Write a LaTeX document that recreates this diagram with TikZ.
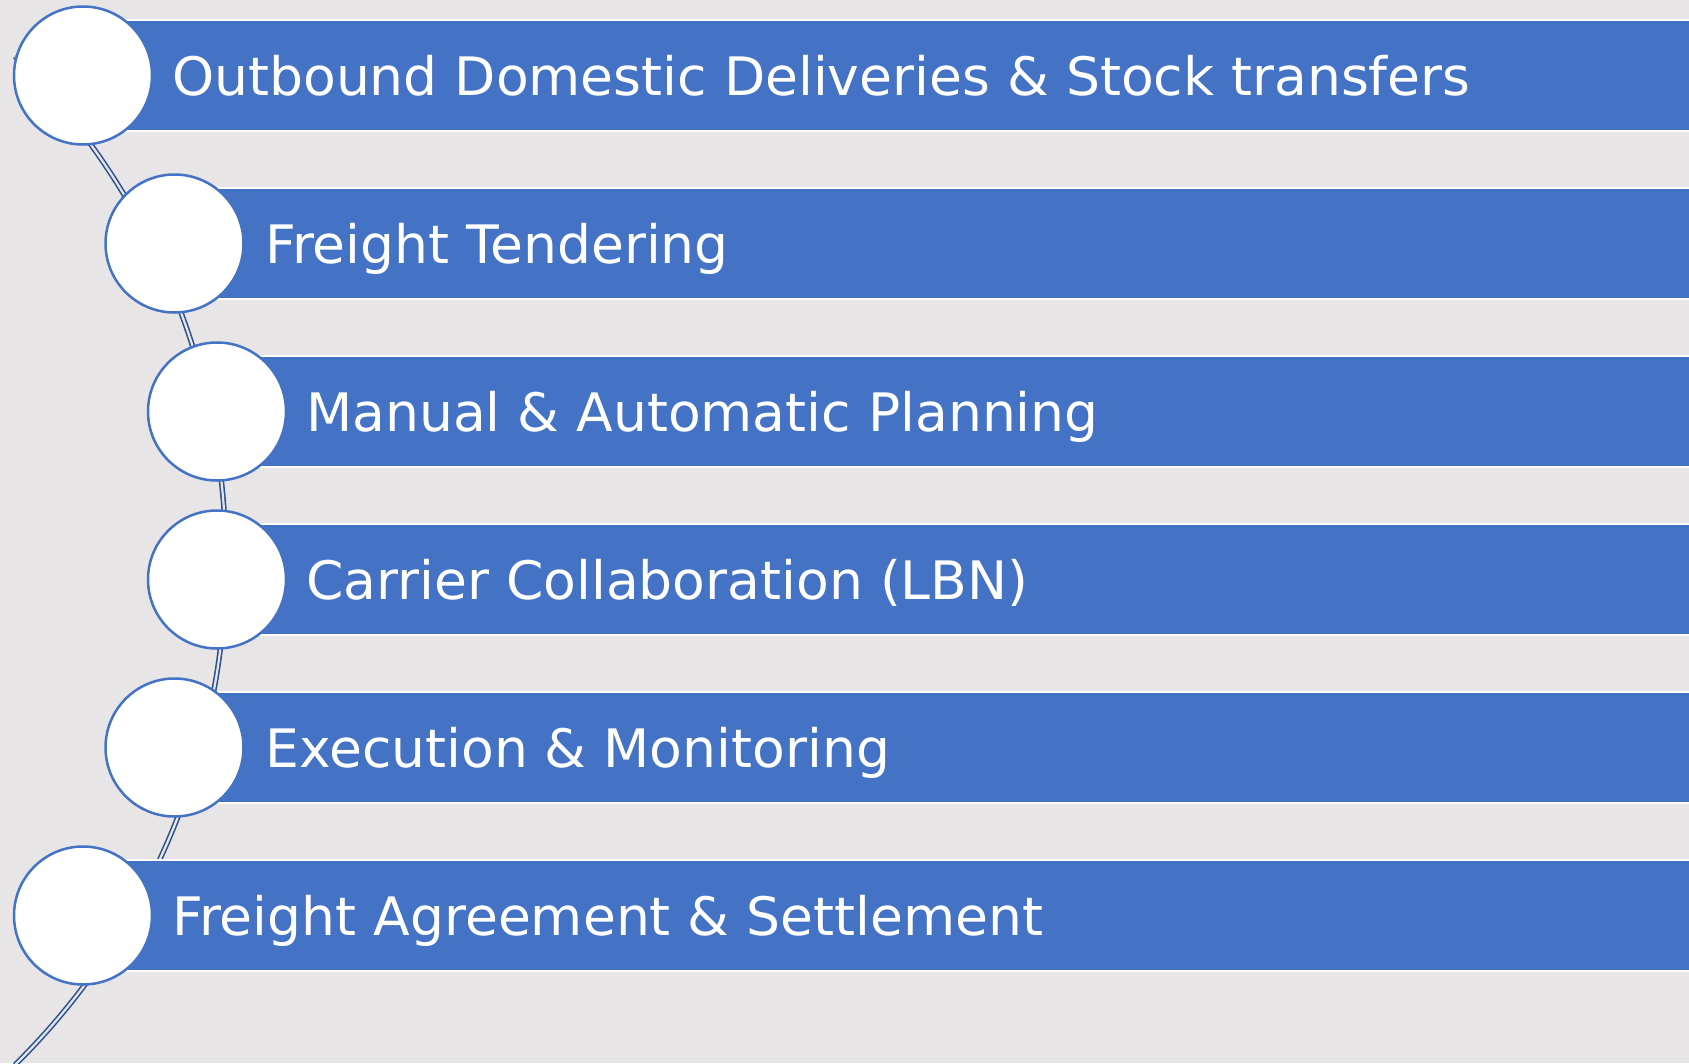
\documentclass[tikz,border=0pt]{standalone}
\usepackage{fontspec}
\setmainfont[FakeStretch=1.01]{DejaVu Sans}
\usetikzlibrary{calc}
\definecolor{bgcol}{HTML}{E7E5E6}
\definecolor{barcol}{HTML}{4472C4}
\definecolor{arccol}{HTML}{2E5393}
\tikzset{
  barbox/.style={rectangle, fill=barcol, draw=white, line width=2pt, minimum height=111pt, inner sep=0pt, anchor=west},
  dot/.style={circle, fill=white, draw=barcol, line width=2.5pt, minimum size=138pt, inner sep=0pt},
  label/.style={anchor=base west, inner sep=0pt, text=white, font=\fontsize{53}{60}\selectfont},
  arcline/.style={draw=arccol, line width=1.6pt, double=bgcol, double distance=2.2pt}
}
\begin{document}
\begin{tikzpicture}[x=1pt,y=-1pt]
\fill[bgcol] (0,0) rectangle (1689,1063);
\useasboundingbox (0,0) rectangle (1689,1063);
\clip (0,0) rectangle (1689,1063);
\coordinate (arcC) at (-482.6,560.6);
\coordinate (arcS) at ($(arcC)+(-45.4:708.5)$);
\draw[arcline] (arcS) arc[start angle=-45.4, end angle=45.4, radius=708.5];
% bars
\foreach \i/\cx in {1/83,2/174.5,3/217,4/217,5/174.5,6/83}{
  \pgfmathsetmacro{\cy}{75.5+168*(\i-1)}
  \node[barbox, minimum width={1720-\cx}] (b\i) at (\cx,\cy) {};
}
% circles
\foreach \i/\cx in {1/83,2/174.5,3/217,4/217,5/174.5,6/83}{
  \pgfmathsetmacro{\cy}{75.5+168*(\i-1)}
  \node[dot] (c\i) at (\cx,\cy) {};
}
\node[label] (t1) at (172,95) {Outbound Domestic Deliveries \& Stock transfers};
\node[label] (t2) at (265,263) {Freight Tendering};
\node[label] (t3) at (306,431) {Manual \& Automatic Planning};
\node[label] (t4) at (306,599) {Carrier Collaboration (LBN)};
\node[label] (t5) at (265,767) {Execution \& Monitoring};
\node[label] (t6) at (172,935) {Freight Agreement \& Settlement};
\end{tikzpicture}
\end{document}
